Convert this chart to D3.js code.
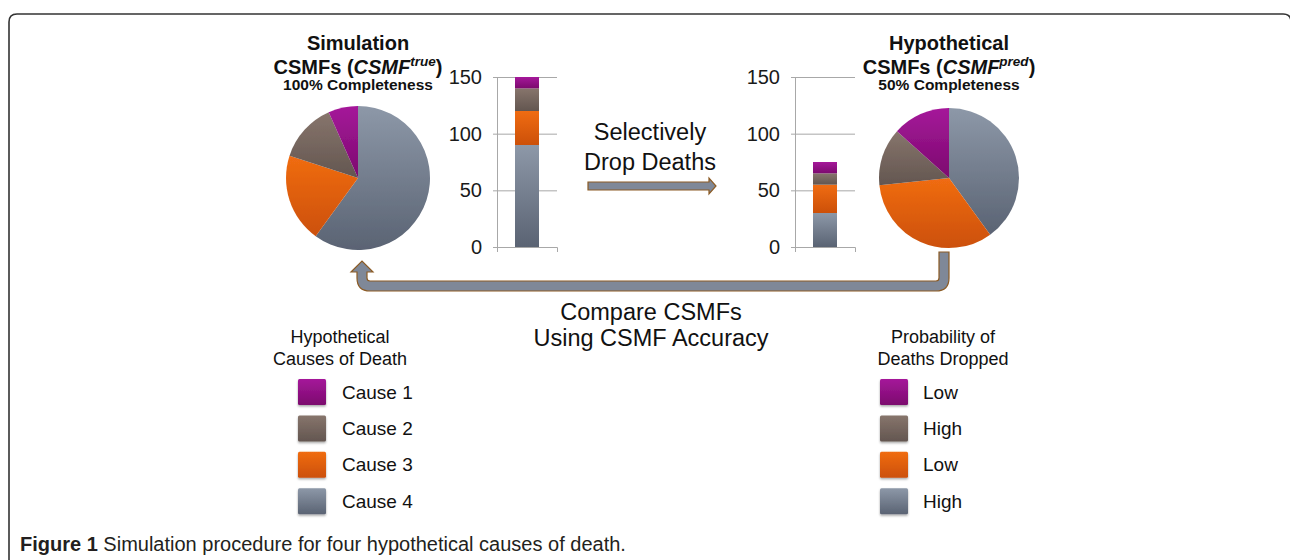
<!DOCTYPE html>
<meta charset="utf-8">
<style>
body { margin: 0; background: #fff; }
text { font-family: "Liberation Sans", Arial, Helvetica, sans-serif; }
.axis path, .axis line { stroke: #a8a8a8; }
</style>
<svg width="1290" height="560"></svg>
<script src="https://d3js.org/d3.v7.min.js"></script>
<script>

// data
var causes = ["Cause 1", "Cause 2", "Cause 3", "Cause 4"];
var trueCounts = [10, 20, 30, 90];   // 100% completeness, total 150
var predCounts = [10, 10, 25, 30];   // 50% completeness, total 75
var dropProb = ["Low", "High", "Low", "High"];
var yTicks = [0, 50, 100, 150];

var colors = {
  "Cause 1": ["#a5189a", "#7c0a6e"],
  "Cause 2": ["#87756c", "#635650"],
  "Cause 3": ["#f06c12", "#cc5009"],
  "Cause 4": ["#8d98a8", "#5a6373"]
};

var svg = d3.select("svg");

// gradients
var defs = svg.append("defs");
causes.forEach(function(c, i) {
  var grad = defs.append("linearGradient")
      .attr("id", "g" + i)
      .attr("x1", 0).attr("y1", 0).attr("x2", 0).attr("y2", 1);
  grad.append("stop").attr("offset", "0%").attr("stop-color", colors[c][0]);
  grad.append("stop").attr("offset", "100%").attr("stop-color", colors[c][1]);
});
var soft = defs.append("filter").attr("id", "soft");
soft.append("feGaussianBlur").attr("stdDeviation", 0.6);
var shadow = defs.append("filter").attr("id", "shadow")
    .attr("x", "-20%").attr("y", "-20%").attr("width", "150%").attr("height", "150%");
shadow.append("feDropShadow").attr("dx", 0).attr("dy", 1.5)
    .attr("stdDeviation", 1).attr("flood-color", "#000").attr("flood-opacity", 0.35);

function fillOf(c) { return "url(#g" + causes.indexOf(c) + ")"; }

// frame (right edge runs just off the picture)
svg.append("path")
    .attr("d", "M9,560 L9,22 Q9,14 17,14 L1283,14 Q1291,14 1291,22 L1291,560")
    .attr("fill", "none")
    .attr("stroke", "#333")
    .attr("stroke-width", 1.6);

// ---- stacked bars ----
var y = d3.scaleLinear().domain([0, 150]).range([247, 77]);

function drawBar(x0, counts) {
  var x = d3.scaleBand().domain(["all"]).range([x0, x0 + 60]).padding(0.4286);

  var g = svg.append("g");

  // gridlines
  g.append("g")
      .attr("class", "axis")
      .attr("transform", "translate(" + x0 + ",0)")
      .call(d3.axisLeft(y).tickValues(yTicks).tickSize(-60).tickFormat(""))
      .call(function(s) { s.select(".domain").remove(); });

  // left axis with labels
  g.append("g")
      .attr("class", "axis")
      .attr("transform", "translate(" + x0 + ",0)")
      .call(d3.axisLeft(y).tickValues(yTicks).tickSize(4).tickSizeOuter(0).tickPadding(11))
      .call(function(s) {
        s.selectAll("text")
            .attr("font-size", 20)
            .attr("font-family", "Liberation Sans, Arial, sans-serif")
            .attr("fill", "#1a1a1a");
      });

  // category axis at bottom
  g.append("g")
      .attr("class", "axis")
      .attr("transform", "translate(0," + y(0) + ")")
      .call(d3.axisBottom(x).tickSize(0).tickSizeOuter(5).tickFormat(""));

  var order = causes.slice().reverse();
  var row = {};
  causes.forEach(function(c, i) { row[c] = counts[i]; });
  var series = d3.stack().keys(order)([row]);

  g.selectAll(".seg")
    .data(series)
    .enter().append("rect")
      .attr("class", "seg")
      .attr("x", x("all"))
      .attr("width", x.bandwidth())
      .attr("y", function(d) { return y(d[0][1]); })
      .attr("height", function(d) { return y(d[0][0]) - y(d[0][1]); })
      .attr("fill", function(d) { return fillOf(d.key); });
}

drawBar(497, trueCounts);
drawBar(795, predCounts);

// ---- pies ----
var pie = d3.pie().sort(null).value(function(d) { return d.v; });

function drawPie(cx, cy, r, counts) {
  var data = causes.map(function(c, i) { return {c: c, v: counts[i]}; }).reverse();
  var arc = d3.arc().innerRadius(0).outerRadius(r);
  svg.append("g")
      .attr("transform", "translate(" + cx + "," + cy + ")")
      .attr("filter", "url(#soft)")
    .selectAll("path")
    .data(pie(data))
    .enter().append("path")
      .attr("d", arc)
      .attr("fill", function(d) { return fillOf(d.data.c); });
}

drawPie(358, 178, 72, trueCounts);
drawPie(949, 178, 70, predCounts);

// ---- titles ----
function title(cx, lines, sup, sub) {
  var t = svg.append("g").attr("text-anchor", "middle").attr("fill", "#111").attr("font-weight", "bold");
  t.append("text").attr("x", cx).attr("y", 50).attr("font-size", 20).text(lines);
  var l2 = t.append("text").attr("x", cx).attr("y", 74).attr("font-size", 20);
  l2.append("tspan").text("CSMFs (");
  l2.append("tspan").attr("font-style", "italic").text("CSMF");
  l2.append("tspan").attr("font-style", "italic").attr("font-size", 13.5).attr("dy", -8).text(sup);
  l2.append("tspan").attr("dy", 8).text(")");
  t.append("text").attr("x", cx).attr("y", 90).attr("font-size", 15.5).text(sub);
}
title(358, "Simulation", "true", "100% Completeness");
title(949, "Hypothetical", "pred", "50% Completeness");

// ---- arrows ----
svg.append("path")
    .attr("d", "M588,182 L709,182 L709,178 L716,186 L709,194 L709,190 L588,190 Z")
    .attr("fill", "#7f8898")
    .attr("stroke", "#8c5b24")
    .attr("stroke-width", 1.2);

svg.append("path")
    .attr("d", "M939,252 L949,252 L949,278 Q949,291 936,291 L370,291 Q357,291 357,278 " +
               "L357,272 L351,272 L362,261 L373,272 L367,272 L367,278 Q367,281 370,281 " +
               "L936,281 Q939,281 939,278 Z")
    .attr("fill", "#7f8898")
    .attr("stroke", "#8c5b24")
    .attr("stroke-width", 1.2);

// ---- middle labels ----
var mid = svg.append("g").attr("text-anchor", "middle").attr("fill", "#111");
mid.append("text").attr("x", 650).attr("y", 140).attr("font-size", 23.5).text("Selectively");
mid.append("text").attr("x", 650).attr("y", 170).attr("font-size", 23.5).text("Drop Deaths");
mid.append("text").attr("x", 651).attr("y", 320).attr("font-size", 23.5).text("Compare CSMFs");
mid.append("text").attr("x", 651).attr("y", 346).attr("font-size", 23.5).text("Using CSMF Accuracy");

// ---- legends ----
function legend(cx, sx, tx, head1, head2, labels) {
  var g = svg.append("g").attr("fill", "#111");
  g.append("text").attr("x", cx).attr("y", 343).attr("text-anchor", "middle").attr("font-size", 18).text(head1);
  g.append("text").attr("x", cx).attr("y", 365).attr("text-anchor", "middle").attr("font-size", 18).text(head2);

  var rows = g.selectAll(".row")
    .data(causes)
    .enter().append("g")
      .attr("class", "row")
      .attr("transform", function(d, i) { return "translate(0," + (392 + i * 36.4) + ")"; });

  rows.append("rect")
      .attr("x", sx)
      .attr("y", -13)
      .attr("width", 28)
      .attr("height", 26)
      .attr("rx", 1.5)
      .attr("filter", "url(#shadow)")
      .attr("fill", function(d) { return fillOf(d); });

  rows.append("text")
      .attr("x", tx)
      .attr("dy", "0.35em")
      .attr("font-size", 19)
      .text(function(d, i) { return labels[i]; });
}

legend(340, 298, 342, "Hypothetical", "Causes of Death", causes);
legend(943, 880, 923, "Probability of", "Deaths Dropped", dropProb);

// ---- caption ----
var cap = svg.append("text")
    .attr("x", 20)
    .attr("y", 551)
    .attr("font-size", 20)
    .attr("fill", "#231f20");
cap.append("tspan").attr("font-weight", "bold").text("Figure 1");
cap.append("tspan").text(" Simulation procedure for four hypothetical causes of death.");

</script>
